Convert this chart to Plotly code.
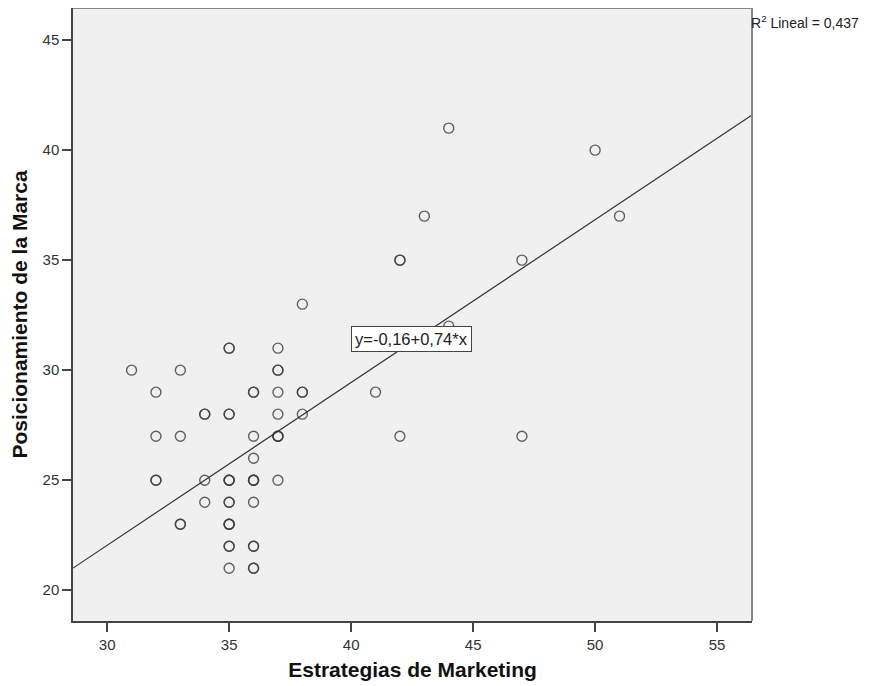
import plotly.graph_objects as go

# Data (duplicates included where markers appear darker)
x_vals = [31, 32, 32, 32, 32, 33, 33, 33, 33, 34, 34, 34, 34,
          35, 35, 35, 35, 35, 35, 35, 35, 35, 35, 35, 35, 35, 35, 35,
          36, 36, 36, 36, 36, 36, 36, 36, 36, 36, 36, 36,
          37, 37, 37, 37, 37, 37, 37, 37, 37,
          38, 38, 38, 38, 41, 42, 42, 42, 43, 44, 44, 47, 47, 50, 51]
y_vals = [30, 29, 27, 25, 25, 30, 27, 23, 23, 28, 28, 25, 24,
          31, 31, 28, 28, 25, 25, 24, 24, 23, 23, 22, 22, 21, 25, 23,
          29, 29, 27, 26, 25, 25, 24, 22, 22, 21, 21, 25,
          31, 30, 30, 29, 28, 27, 27, 25, 27,
          33, 29, 29, 28, 29, 35, 35, 27, 37, 41, 32, 35, 27, 40, 37]
intercept = -0.16
slope = 0.74
r2_text = "R<sup>2</sup> Lineal = 0,437"
eq_text = "y=-0,16+0,74*x"

x_range = [28.6, 56.43]
y_range = [18.6, 46.46]

line_x = x_range
line_y = [intercept + slope * v for v in line_x]

FONT = "Liberation Sans, Arial, sans-serif"

fig = go.Figure()
fig.add_trace(go.Scatter(
    x=x_vals, y=y_vals, mode="markers",
    marker=dict(symbol="circle-open", size=10, color="rgba(60,60,60,0.8)",
                line=dict(width=1.4, color="rgba(60,60,60,0.8)")),
    showlegend=False, hoverinfo="skip"))
fig.add_trace(go.Scatter(
    x=line_x, y=line_y, mode="lines",
    line=dict(color="#333333", width=1.2),
    showlegend=False, hoverinfo="skip"))

fig.add_annotation(x=42.47, y=31.43, xref="x", yref="y", text=eq_text,
                   showarrow=False, bgcolor="white", bordercolor="#444444",
                   borderwidth=1, borderpad=3,
                   font=dict(family=FONT, size=16.5, color="#222222"))
fig.add_annotation(x=1, y=1, xref="paper", yref="paper", xanchor="left", yanchor="top",
                   text=r2_text, showarrow=False, xshift=-3, yshift=-3,
                   font=dict(family=FONT, size=14, color="#222222"))

fig.update_layout(
    width=870, height=686,
    margin=dict(l=65, r=126, t=0, b=73),
    paper_bgcolor="white", plot_bgcolor="#f0f0f0",
    font=dict(family=FONT, color="#333333"),
    xaxis=dict(range=x_range, tickvals=[30, 35, 40, 45, 50, 55],
               ticks="outside", ticklen=9, tickwidth=1.5, tickcolor="#444444",
               showgrid=False, zeroline=False, showline=True, linecolor="#444444",
               linewidth=1.5, mirror=False,
               tickfont=dict(size=15, color="#333333"),
               title=dict(text="<b>Estrategias de Marketing</b>", standoff=11,
                          font=dict(size=21, color="#111111"))),
    yaxis=dict(range=y_range, tickvals=[20, 25, 30, 35, 40, 45],
               ticks="outside", ticklen=9, tickwidth=1.5, tickcolor="#444444",
               showgrid=False, zeroline=False, showline=True, linecolor="#444444",
               linewidth=1.5, mirror=False,
               tickfont=dict(size=15, color="#333333"),
               title=dict(text="<b>Posicionamiento de la Marca</b>", standoff=10,
                          font=dict(size=21, color="#111111"))),
    shapes=[
        dict(type="line", xref="paper", yref="paper", x0=0, x1=1, y0=1, y1=1,
             line=dict(color="#888888", width=2)),
        dict(type="line", xref="paper", yref="paper", x0=1, x1=1, y0=0, y1=1,
             line=dict(color="#888888", width=2)),
    ],
)

fig.write_html("out.html")
